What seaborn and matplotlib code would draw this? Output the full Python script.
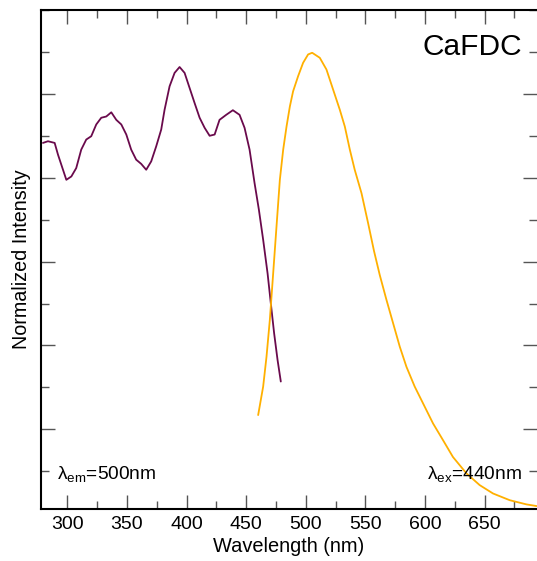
import numpy as np
import pandas as pd
import matplotlib
matplotlib.use("Agg")
import matplotlib.pyplot as plt
import seaborn as sns
from matplotlib.ticker import MultipleLocator

# Excitation spectrum (lambda_em = 500 nm)
ex_wavelength = [279.6, 283.8, 289.4, 292.2, 295.0, 299.2, 303.4, 307.5, 311.7, 315.9,
                 320.1, 324.3, 328.5, 332.7, 336.9, 341.1, 345.3, 349.5, 353.6, 357.8,
                 362.0, 366.2, 370.4, 374.6, 378.8, 381.6, 385.8, 390.0, 394.2, 398.4,
                 402.6, 406.8, 411.0, 415.2, 419.4, 423.6, 427.7, 433.3, 438.9, 444.5,
                 448.7, 452.9, 457.1, 460.7, 464.3, 468.0, 470.7, 473.5, 476.4, 479.1]
ex_intensity = [0.883, 0.887, 0.883, 0.855, 0.831, 0.795, 0.803, 0.823, 0.867, 0.891,
                0.899, 0.927, 0.943, 0.946, 0.956, 0.938, 0.927, 0.903, 0.867, 0.843,
                0.833, 0.819, 0.839, 0.875, 0.915, 0.962, 1.018, 1.050, 1.064, 1.050,
                1.014, 0.978, 0.943, 0.919, 0.900, 0.903, 0.938, 0.950, 0.961, 0.950,
                0.919, 0.867, 0.787, 0.724, 0.652, 0.572, 0.501, 0.429, 0.365, 0.314]

# Emission spectrum (lambda_ex = 440 nm)
em_wavelength = [460.1, 464.3, 467.1, 469.9, 472.7, 475.5, 478.3, 481.1, 483.9, 486.7,
                 489.4, 493.6, 497.8, 502.0, 505.4, 511.8, 517.4, 523.0, 528.6, 532.8,
                 537.0, 541.1, 546.8, 552.3, 557.3, 562.1, 567.7, 573.3, 578.9, 584.5,
                 591.4, 598.4, 606.8, 615.2, 623.5, 634.8, 645.9, 657.1, 671.1, 685.1, 693.7]
em_intensity = [0.234, 0.302, 0.373, 0.461, 0.572, 0.684, 0.795, 0.867, 0.922, 0.970,
                1.006, 1.042, 1.074, 1.094, 1.098, 1.086, 1.058, 1.010, 0.962, 0.922,
                0.867, 0.819, 0.763, 0.692, 0.625, 0.568, 0.509, 0.453, 0.397, 0.349,
                0.302, 0.262, 0.214, 0.174, 0.134, 0.095, 0.067, 0.047, 0.031, 0.021, 0.017]

x_ticks = [300, 350, 400, 450, 500, 550, 600, 650]

sns.set_theme(style="white")
plt.rcParams['font.family'] = ['Liberation Sans', 'DejaVu Sans']
plt.rcParams['text.color'] = 'black'
plt.rcParams['axes.labelcolor'] = 'black'

fig = plt.figure(figsize=(5.37, 5.61), dpi=100)
ax = fig.add_axes([0.0758, 0.0927, 0.9242, 0.8895])

ex_df = pd.DataFrame({"Wavelength": ex_wavelength, "Intensity": ex_intensity})
em_df = pd.DataFrame({"Wavelength": em_wavelength, "Intensity": em_intensity})
sns.lineplot(data=ex_df, x="Wavelength", y="Intensity", ax=ax, color="#6a0a4c",
             linewidth=1.3, estimator=None, sort=False)
sns.lineplot(data=em_df, x="Wavelength", y="Intensity", ax=ax, color="#ffb000",
             linewidth=1.3, estimator=None, sort=False)

ax.set_xlim(277.7, 694)
ax.set_ylim(0.01, 1.2)
ax.set_xticks(x_ticks)
ax.xaxis.set_minor_locator(MultipleLocator(25))
ax.set_yticks([0.2, 0.4, 0.6, 0.8, 1.0])
ax.yaxis.set_minor_locator(MultipleLocator(0.1))
ax.set_yticklabels([])

ax.tick_params(which='major', direction='in', length=10, width=1.0, color='#555555',
               top=True, right=True, bottom=True, left=True, labelsize=14, pad=5,
               labelcolor='black')
ax.tick_params(which='minor', direction='in', length=5.5, width=1.0, color='#555555',
               top=True, right=True, bottom=True, left=True)

for side in ['left', 'bottom', 'top']:
    ax.spines[side].set_visible(True)
    ax.spines[side].set_color('black')
    ax.spines[side].set_linewidth(1.5)
ax.spines['right'].set_visible(False)

ax.set_xlabel("Wavelength (nm)", fontsize=14.4, labelpad=3)
ax.set_ylabel("Normalized Intensity", fontsize=14.2)
ax.yaxis.set_label_coords(-0.02, 0.5)

ax.text(0.97, 0.926, "CaFDC", transform=ax.transAxes, ha='right', va='center', fontsize=21.5)
ax.text(0.033, 0.058, "λ$_{\\mathregular{em}}$=500nm", transform=ax.transAxes,
        ha='left', va='baseline', fontsize=13.8)
ax.text(0.97, 0.058, "λ$_{\\mathregular{ex}}$=440nm", transform=ax.transAxes,
        ha='right', va='baseline', fontsize=13.8)

fig.savefig("out.png", dpi=100)
